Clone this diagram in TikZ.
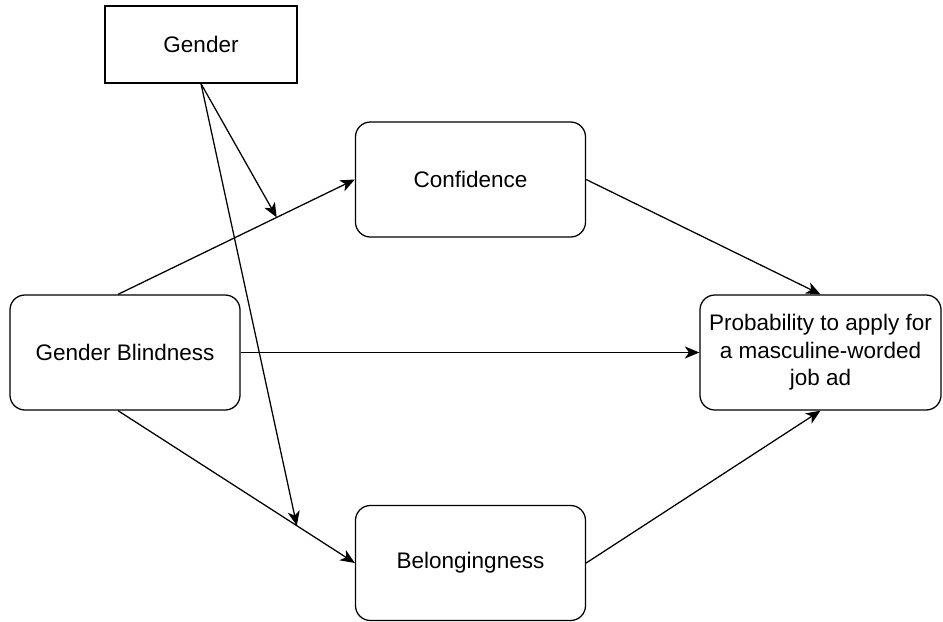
\documentclass[tikz,border=0pt]{standalone}
\usepackage{fontspec}
\setmainfont{Liberation Sans}
\usetikzlibrary{arrows.meta}

\begin{document}
\begin{tikzpicture}[x=0.025cm,y=-0.025cm,every node/.style={font=\fontsize{16}{19.5}\selectfont},
  box/.style={draw,line width=0.9pt,rounded corners=0.375cm,minimum width=5.75cm,minimum height=2.875cm,align=center,fill=white},
  link/.style={line width=0.9pt,-{Stealth[length=0.36cm,width=0.3cm,inset=0.1cm]}}]
\useasboundingbox (0,0) rectangle (943,621);
\node[draw,line width=0.9pt,minimum width=4.8cm,minimum height=1.925cm] (gender) at (201,44.5) {Gender};
\node[box] (conf) at (470.5,179.5) {Confidence};
\node[box] (gb) at (125,352.5) {Gender Blindness};
\node[box,minimum width=6.025cm] (prob) at (820.5,352.5) {Probability to apply for\\a masculine-worded\\job ad};
\node[box] (bel) at (470.5,563) {Belongingness};
% paths into and out of the mediators
\draw[link] ([xshift=-0.175cm]gb.north) -- coordinate[pos=0.67] (m1) (conf.west);
\draw[link] (gb.east) -- (prob.west);
\draw[link] ([xshift=-0.175cm]gb.south) -- coordinate[pos=0.755] (m2) (bel.west);
\draw[link] (conf.east) -- (prob.north);
\draw[link] (bel.east) -- (prob.south);
% moderation by gender
\draw[link] (gender.south) -- (m1);
\draw[link] (gender.south) -- (m2);
\end{tikzpicture}
\end{document}
